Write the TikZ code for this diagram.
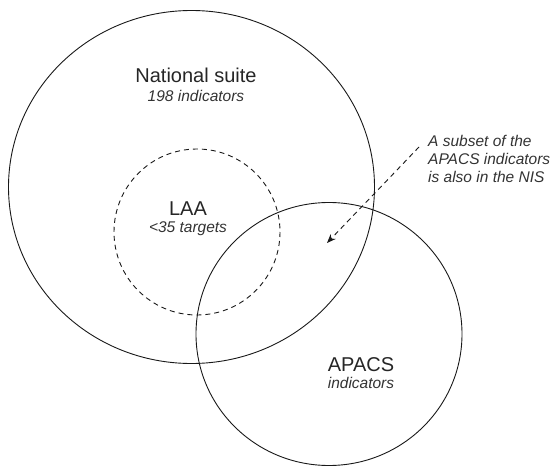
\documentclass[tikz,border=0pt]{standalone}
\usepackage{fontspec}
\setmainfont{Liberation Sans}
\usetikzlibrary{arrows.meta}
\begin{document}
\begin{tikzpicture}[x=1pt,y=-1pt,
  ring/.style={draw=black!90, line width=0.9pt},
  dashring/.style={draw=black!90, line width=0.9pt, dash pattern=on 5pt off 4pt},
  title/.style={font=\fontsize{20}{22}\selectfont, text=black!85, inner sep=0pt, anchor=base},
  sublabel/.style={font=\fontsize{15.5}{17}\selectfont\itshape, text=black!80, inner sep=0pt, anchor=base},
  notelabel/.style={font=\fontsize{15.5}{17}\selectfont\itshape, text=black!80, inner sep=0pt, anchor=base west},
  pointer/.style={draw=black!90, line width=0.9pt, dash pattern=on 5pt off 4pt, -{Stealth[length=9pt,width=7pt]}}
]
\useasboundingbox (0,0) rectangle (550,466);
% circles
\draw[ring] (191.5,187) ellipse [x radius=183, y radius=176.5];
\draw[dashring] (197,232) circle [radius=83];
\draw[ring] (329,334) ellipse [x radius=133, y radius=131.5];
% labels
\node[title] (nat) at (196,82) {National suite};
\node[sublabel] (natsub) at (196,101) {198 indicators};
\node[title] (laa) at (188,215) {LAA};
\node[sublabel] (laasub) at (188,232) {<35 targets};
\node[title] (apacs) at (361,371) {APACS};
\node[sublabel] (apacssub) at (361,388) {indicators};
% note
\node[notelabel] (note1) at (428,146) {A subset of the};
\node[notelabel] (note2) at (428,164) {APACS indicators};
\node[notelabel] (note3) at (428,182) {is also in the NIS};
% pointer
\coordinate (pstart) at (419,147);
\coordinate (pend) at (327,243);
\draw[pointer] (pstart) -- (pend);
\end{tikzpicture}
\end{document}
